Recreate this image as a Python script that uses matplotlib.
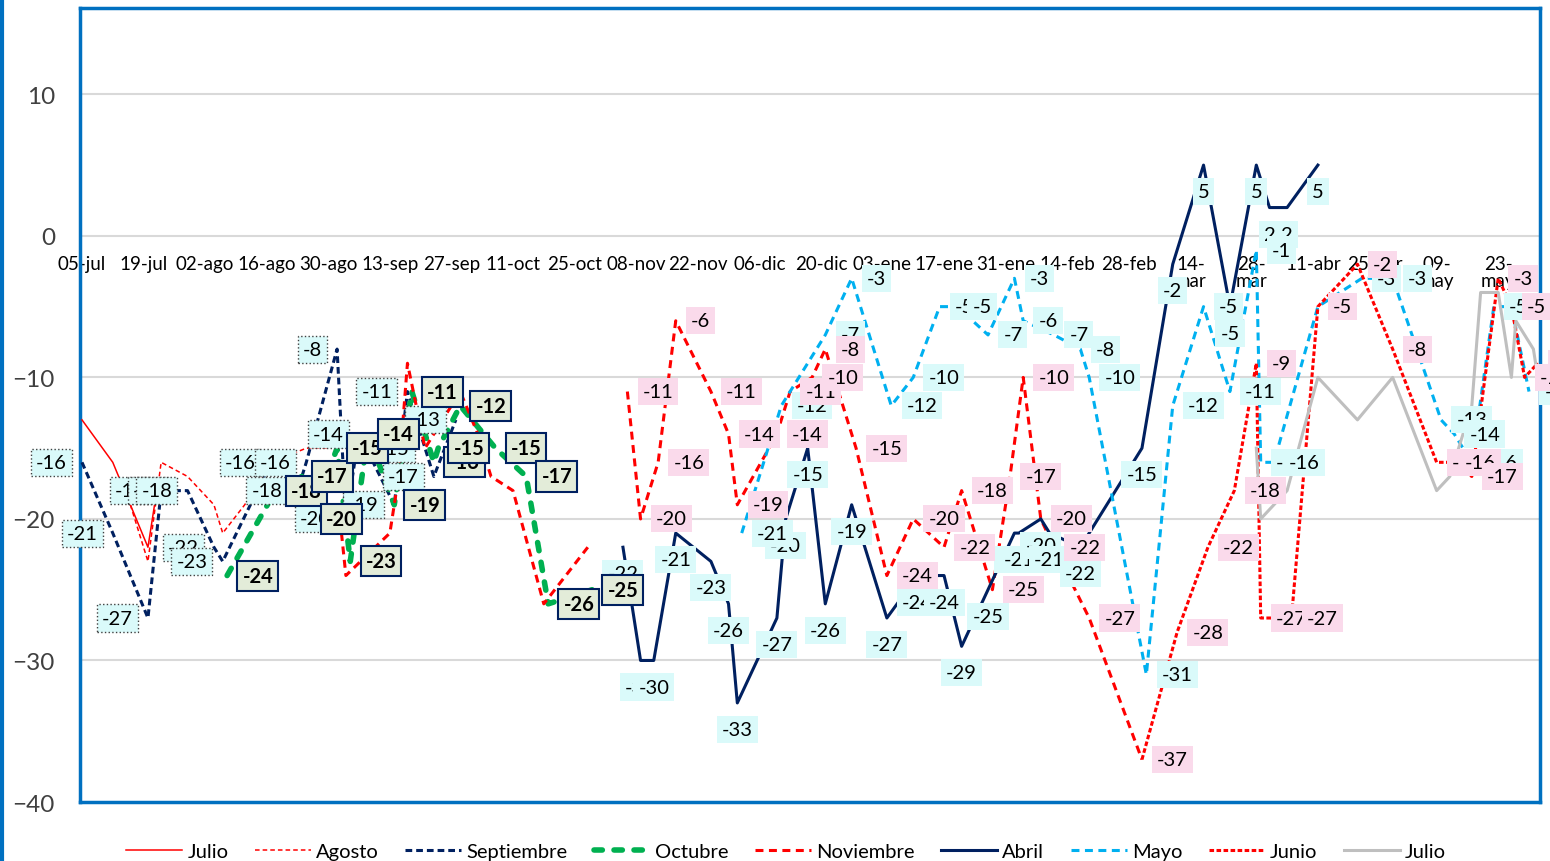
import matplotlib.pyplot as plt
from matplotlib.lines import Line2D

plt.rcParams['font.family'] = ['Lato', 'DejaVu Sans']

# eje x: días contados desde el 05-jul
ticks_dias = list(range(0, 323, 14))
ticks_txt = ['05-jul', '19-jul', '02-ago', '16-ago', '30-ago', '13-sep', '27-sep',
             '11-oct', '25-oct', '08-nov', '22-nov', '06-dic', '20-dic', '03-ene',
             '17-ene', '31-ene', '14-feb', '28-feb', '14-\nmar', '28-\nmar',
             '11-abr', '25-abr', '09-\nmay', '23-\nmay']

# series (día, valor)
julio_d = [0, 7, 15, 17]
julio_v = [-13, -16, -22, -18]

agosto_d = [11, 15, 18, 24, 30, 32, 37, 43, 51, 56]
agosto_v = [-19, -23, -16, -17, -19, -21, -19, -16, -15, -15]

sept_d = [0, 7, 15, 18, 22, 24, 30, 32, 43, 49, 51, 58, 60, 63, 71, 74, 78, 80, 85]
sept_v = [-16, -21, -27, -18, -18, -18, -22, -23, -16, -18, -16, -8, -20, -14, -19, -11, -15, -17, -13]

oct_d = [33, 44, 50, 52, 58, 61, 65, 71, 75, 80, 81, 86, 94, 101, 106, 116]
oct_v = [-24, -18, -17, -20, -15, -23, -14, -19, -11, -16, -15, -12, -15, -17, -26, -25]

nov_a_d = [59, 60, 70, 72, 74, 78, 86, 90, 93, 98, 105, 115]
nov_a_v = [-21, -24, -21, -17, -9, -15, -11, -14, -17, -18, -26, -22]
nov_d = [124, 127, 131, 135, 143, 147, 149, 158, 161, 166, 169, 176, 183, 189, 196, 200,
         207, 211, 214, 218, 221, 229, 241]
nov_v = [-11, -20, -16, -6, -11, -14, -19, -14, -11, -10, -8, -15, -24, -20, -22, -18,
         -25, -17, -10, -20, -22, -27, -37]

abril_d = [123, 127, 130, 135, 143, 147, 149, 158, 160, 165, 169, 175, 183, 190, 196,
           200, 206, 212, 213, 218, 220, 227, 241, 248, 255, 261, 267, 270, 274, 281]
abril_v = [-22, -30, -30, -21, -23, -26, -33, -27, -20, -15, -26, -19, -27, -24, -24,
           -29, -25, -21, -21, -20, -21, -22, -15, -2, 5, -5, 5, 2, 2, 5]

mayo_d = [150, 159, 169, 175, 184, 189, 195, 199, 206, 212, 214, 221, 227, 229, 242,
          248, 255, 261, 267, 268, 271, 281, 291, 298, 309, 312, 316, 321, 325, 329]
mayo_v = [-21, -12, -7, -3, -12, -10, -5, -5, -7, -3, -6, -7, -8, -10, -31,
          -12, -5, -11, -1, -16, -16, -5, -3, -3, -13, -14, -16, -5, -5, -11]

junio_d = [241, 249, 256, 262, 267, 268, 275, 281, 290, 298, 308, 311, 316, 322, 325, 328, 331]
junio_v = [-37, -28, -22, -18, -9, -27, -27, -5, -2, -8, -16, -16, -17, -3, -5, -10, -9]

julio2_d = [267, 268, 274, 281, 290, 298, 308, 311, 316, 318, 322, 325, 326, 330, 331]
julio2_v = [-15, -20, -18, -10, -13, -10, -18, -17, -12, -4, -4, -10, -6, -8, -10]

ROJO = '#FF0000'
NAVY = '#002060'
CELESTE = '#00B0F0'
VERDE = '#00B050'
GRIS = '#BFBFBF'
FONDO_CIAN = '#DAFAFA'
FONDO_ROSA = '#FADAEB'
FONDO_VERDE = '#E3ECD9'


def etiquetas(ax, dias, vals, pos, fc, ec='none', ls='-', lw=1.0, bold=False, z=6):
    '''data labels a la derecha, izquierda o debajo del punto'''
    for d, v in zip(dias, vals):
        if pos == 'right':
            off, ha, va = (11, 0), 'left', 'center'
        elif pos == 'left':
            off, ha, va = (-11, 0), 'right', 'center'
        else:
            off, ha, va = (0, -13), 'center', 'top'
        ax.annotate(str(v), (d, v), xytext=off, textcoords='offset points',
                    ha=ha, va=va, fontsize=14.5,
                    fontweight='bold' if bold else 'normal',
                    bbox=dict(boxstyle='square,pad=0.25', fc=fc, ec=ec, ls=ls, lw=lw),
                    zorder=z)


fig = plt.figure(figsize=(15.5, 8.62), dpi=100)
ax = fig.add_axes([80 / 1550, 1 - 803 / 862, 1460 / 1550, 794 / 862])
ax.set_xlim(-0.45, 331.5)
ax.set_ylim(-40, 16.1)

for y in [10, 0, -10, -20, -30]:
    ax.axhline(y, color='#D9D9D9', lw=1.5, zorder=1)

ax.set_xticks([])
ax.set_yticks([10, 0, -10, -20, -30, -40])
ax.tick_params(axis='y', length=0, pad=18, labelsize=17.5, labelcolor='#404040')
for s in ax.spines.values():
    s.set_color('#0070C0')
    s.set_linewidth(2.5)

# etiquetas del eje de fechas sobre la línea del 0
for d, t in zip(ticks_dias, ticks_txt):
    ax.annotate(t, (d, 0), xytext=(0, -14), textcoords='offset points',
                ha='center', va='top', fontsize=13.5, linespacing=1.0, zorder=2)

h = []
h += ax.plot(julio_d, julio_v, color=ROJO, lw=1.1, zorder=3, label='Julio')
h += ax.plot(agosto_d, agosto_v, color=ROJO, lw=1.1, dashes=(3, 2), zorder=3, label='Agosto')
h += ax.plot(sept_d, sept_v, color=NAVY, lw=2.2, dashes=(2.2, 1.3), zorder=3, label='Septiembre')
h += ax.plot(oct_d, oct_v, color=VERDE, lw=4, dashes=(1.5, 2.1), dash_capstyle='round',
             zorder=3, label='Octubre')
h += ax.plot(nov_d, nov_v, color=ROJO, lw=2.2, dashes=(2.6, 1.8), zorder=3, label='Noviembre')
ax.plot(nov_a_d, nov_a_v, color=ROJO, lw=2.2, dashes=(2.6, 1.8), zorder=3)
h += ax.plot(abril_d, abril_v, color=NAVY, lw=2.2, zorder=3, label='Abril')
h += ax.plot(mayo_d, mayo_v, color=CELESTE, lw=2.2, dashes=(2.6, 1.8), zorder=3, label='Mayo')
h += ax.plot(junio_d, junio_v, color=ROJO, lw=2.2, dashes=(1.5, 0.8), zorder=3, label='Junio')
h += ax.plot(julio2_d, julio2_v, color=GRIS, lw=2.2, zorder=3, label='Julio')

etiquetas(ax, sept_d, sept_v, 'left', FONDO_CIAN, ec='#404040', ls=':', z=5)
etiquetas(ax, abril_d, abril_v, 'below', FONDO_CIAN, z=6)
etiquetas(ax, mayo_d, mayo_v, 'right', FONDO_CIAN, z=6)
etiquetas(ax, nov_d, nov_v, 'right', FONDO_ROSA, z=7)
etiquetas(ax, junio_d[1:], junio_v[1:], 'right', FONDO_ROSA, z=7)
etiquetas(ax, oct_d, oct_v, 'right', FONDO_VERDE, ec=NAVY, lw=1.5, bold=True, z=8)

fig.add_artist(Line2D([0.001, 0.001], [0, 1], color='#0070C0', lw=3))

fig.legend(handles=h, loc='center', bbox_to_anchor=(786 / 1550, 1 - 852 / 862),
           ncol=9, frameon=False, fontsize=14.5, handlelength=2.8,
           handletextpad=0.25, columnspacing=1.3)

fig.savefig('out.png', dpi=100)
